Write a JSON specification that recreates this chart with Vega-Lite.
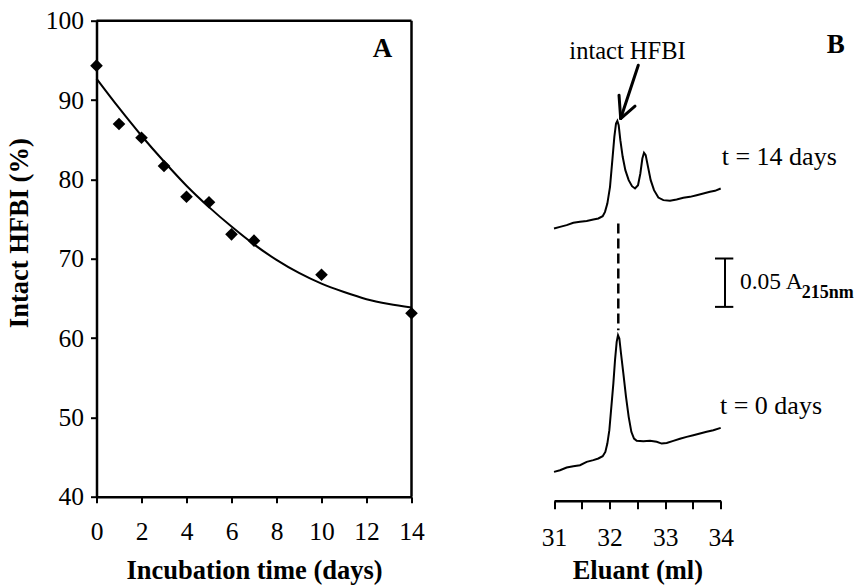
{
  "$schema": "https://vega.github.io/schema/vega-lite/v6.json",
  "width": 770.5,
  "height": 476,
  "autosize": {"type": "none"},
  "padding": {"left": 96.5, "top": 20.7, "right": 0, "bottom": 89.3},
  "config": {
    "view": {"stroke": null},
    "font": "Liberation Serif",
    "axis": {"grid": false, "domainColor": "black", "tickColor": "black", "labelColor": "black", "titleColor": "black", "labelFlush": false, "labelOverlap": false}
  },
  "layer": [
    {
      "encoding": {
        "x": {
          "field": "day", "type": "quantitative",
          "scale": {"domain": [0, 14], "range": [0, 315], "nice": false, "zero": false},
          "axis": {"orient": "bottom", "values": [0, 2, 4, 6, 8, 10, 12, 14], "title": "Incubation time (days)", "tickSize": 6, "tickWidth": 2, "domainWidth": 2.5, "labelFontSize": 25.5, "labelPadding": 17, "titleFontSize": 26.5, "titleFontWeight": "bold", "titleBaseline": "alphabetic", "titleY": 82}
        },
        "y": {
          "field": "pct", "type": "quantitative",
          "scale": {"domain": [40, 100], "nice": false, "zero": false},
          "axis": {"orient": "left", "values": [40, 50, 60, 70, 80, 90, 100], "title": "Intact HFBI (%)", "tickSize": 6, "tickWidth": 2, "domainWidth": 2.5, "labelFontSize": 25.5, "labelPadding": 7, "titleFontSize": 26.5, "titleFontWeight": "bold", "titleX": -77, "titleY": 212, "titleBaseline": "middle", "titleAlign": "center", "titleAngle": -90}
        }
      },
      "layer": [
        {
          "data": {"values": [
            {"day": 0, "pct": 92.7}, {"day": 1, "pct": 89.0}, {"day": 2, "pct": 85.5}, {"day": 3, "pct": 82.25},
            {"day": 4, "pct": 79.2}, {"day": 5, "pct": 76.5}, {"day": 6, "pct": 74.05}, {"day": 7, "pct": 71.8},
            {"day": 8, "pct": 69.85}, {"day": 9, "pct": 68.2}, {"day": 10, "pct": 66.85}, {"day": 11, "pct": 65.8},
            {"day": 12, "pct": 64.9}, {"day": 13, "pct": 64.3}, {"day": 14, "pct": 63.85}
          ]},
          "mark": {"type": "line", "color": "black", "strokeWidth": 2, "interpolate": "monotone"}
        },
        {
          "data": {"values": [
            {"day": 0, "pct": 94.33}, {"day": 1, "pct": 86.98}, {"day": 2, "pct": 85.25}, {"day": 3, "pct": 81.68},
            {"day": 4, "pct": 77.81}, {"day": 5, "pct": 77.11}, {"day": 6, "pct": 73.07}, {"day": 7, "pct": 72.27},
            {"day": 10, "pct": 67.98}, {"day": 14, "pct": 63.12}
          ]},
          "mark": {"type": "point", "shape": "diamond", "filled": true, "color": "black", "opacity": 1, "size": 160}
        },
        {
          "data": {"values": [
            {"day": 0, "day2": 14, "pct": 100, "pct2": 100},
            {"day": 14, "day2": 14, "pct": 40, "pct2": 100}
          ]},
          "mark": {"type": "rule", "color": "black", "strokeWidth": 2.5},
          "encoding": {"x2": {"field": "day2"}, "y2": {"field": "pct2"}}
        },
        {
          "data": {"values": [{"day": 12.71, "pct": 95.46, "label": "A"}]},
          "mark": {"type": "text", "fontSize": 27, "fontWeight": "bold", "align": "center", "baseline": "alphabetic", "color": "black"},
          "encoding": {"text": {"field": "label"}}
        }
      ]
    },
    {
      "encoding": {
        "x": {
          "field": "ml", "type": "quantitative",
          "scale": {"domain": [31, 34], "range": [457.5, 624.2], "nice": false, "zero": false},
          "axis": {"orient": "bottom", "values": [31, 31.5, 32, 32.5, 33, 33.5, 34], "labelExpr": "datum.value % 1 === 0 ? format(datum.value, 'd') : ''", "offset": 4, "title": "Eluant (ml)", "tickSize": 8, "tickWidth": 2, "domainWidth": 2.5, "labelFontSize": 25.5, "labelPadding": 17, "titleFontSize": 26.5, "titleFontWeight": "bold", "titleBaseline": "alphabetic", "titleY": 78}
        },
        "y": {
          "field": "v", "type": "quantitative",
          "scale": {"domain": [0, 0.491], "nice": false, "zero": false},
          "axis": null
        }
      },
      "layer": [
        {
          "data": {"values": [
            {"trace": "14", "ml": 31.000, "v": 0.2766}, {"trace": "14", "ml": 31.108, "v": 0.2783}, {"trace": "14", "ml": 31.228, "v": 0.2801},
            {"trace": "14", "ml": 31.348, "v": 0.2825}, {"trace": "14", "ml": 31.468, "v": 0.2835}, {"trace": "14", "ml": 31.588, "v": 0.2845},
            {"trace": "14", "ml": 31.708, "v": 0.2859}, {"trace": "14", "ml": 31.798, "v": 0.2870}, {"trace": "14", "ml": 31.876, "v": 0.2894},
            {"trace": "14", "ml": 31.918, "v": 0.2938}, {"trace": "14", "ml": 31.960, "v": 0.3024}, {"trace": "14", "ml": 32.008, "v": 0.3196},
            {"trace": "14", "ml": 32.050, "v": 0.3471}, {"trace": "14", "ml": 32.086, "v": 0.3712}, {"trace": "14", "ml": 32.116, "v": 0.3850},
            {"trace": "14", "ml": 32.140, "v": 0.3877}, {"trace": "14", "ml": 32.164, "v": 0.3832}, {"trace": "14", "ml": 32.194, "v": 0.3678},
            {"trace": "14", "ml": 32.236, "v": 0.3506}, {"trace": "14", "ml": 32.284, "v": 0.3368}, {"trace": "14", "ml": 32.344, "v": 0.3265},
            {"trace": "14", "ml": 32.404, "v": 0.3203}, {"trace": "14", "ml": 32.458, "v": 0.3179}, {"trace": "14", "ml": 32.512, "v": 0.3213},
            {"trace": "14", "ml": 32.554, "v": 0.3334}, {"trace": "14", "ml": 32.590, "v": 0.3488}, {"trace": "14", "ml": 32.620, "v": 0.3547},
            {"trace": "14", "ml": 32.650, "v": 0.3523}, {"trace": "14", "ml": 32.692, "v": 0.3402}, {"trace": "14", "ml": 32.740, "v": 0.3265},
            {"trace": "14", "ml": 32.800, "v": 0.3162}, {"trace": "14", "ml": 32.878, "v": 0.3086}, {"trace": "14", "ml": 32.968, "v": 0.3059},
            {"trace": "14", "ml": 33.087, "v": 0.3052}, {"trace": "14", "ml": 33.207, "v": 0.3066}, {"trace": "14", "ml": 33.327, "v": 0.3083},
            {"trace": "14", "ml": 33.447, "v": 0.3093}, {"trace": "14", "ml": 33.567, "v": 0.3110}, {"trace": "14", "ml": 33.687, "v": 0.3127},
            {"trace": "14", "ml": 33.807, "v": 0.3145}, {"trace": "14", "ml": 33.897, "v": 0.3155}, {"trace": "14", "ml": 34.000, "v": 0.3179},
            {"trace": "0", "ml": 31.000, "v": 0.0256}, {"trace": "0", "ml": 31.108, "v": 0.0273}, {"trace": "0", "ml": 31.228, "v": 0.0301},
            {"trace": "0", "ml": 31.348, "v": 0.0315}, {"trace": "0", "ml": 31.468, "v": 0.0325}, {"trace": "0", "ml": 31.588, "v": 0.0359},
            {"trace": "0", "ml": 31.708, "v": 0.0377}, {"trace": "0", "ml": 31.798, "v": 0.0394}, {"trace": "0", "ml": 31.876, "v": 0.0418},
            {"trace": "0", "ml": 31.924, "v": 0.0462}, {"trace": "0", "ml": 31.960, "v": 0.0548}, {"trace": "0", "ml": 31.996, "v": 0.0686},
            {"trace": "0", "ml": 32.032, "v": 0.0927}, {"trace": "0", "ml": 32.068, "v": 0.1167}, {"trace": "0", "ml": 32.098, "v": 0.1408},
            {"trace": "0", "ml": 32.128, "v": 0.1597}, {"trace": "0", "ml": 32.152, "v": 0.1666}, {"trace": "0", "ml": 32.176, "v": 0.1632},
            {"trace": "0", "ml": 32.206, "v": 0.1477}, {"trace": "0", "ml": 32.248, "v": 0.1271}, {"trace": "0", "ml": 32.296, "v": 0.1030},
            {"trace": "0", "ml": 32.344, "v": 0.0824}, {"trace": "0", "ml": 32.392, "v": 0.0669}, {"trace": "0", "ml": 32.440, "v": 0.0600},
            {"trace": "0", "ml": 32.488, "v": 0.0576}, {"trace": "0", "ml": 32.608, "v": 0.0573}, {"trace": "0", "ml": 32.728, "v": 0.0576},
            {"trace": "0", "ml": 32.848, "v": 0.0566}, {"trace": "0", "ml": 32.938, "v": 0.0548}, {"trace": "0", "ml": 33.028, "v": 0.0555},
            {"trace": "0", "ml": 33.147, "v": 0.0576}, {"trace": "0", "ml": 33.267, "v": 0.0597}, {"trace": "0", "ml": 33.387, "v": 0.0617},
            {"trace": "0", "ml": 33.507, "v": 0.0634}, {"trace": "0", "ml": 33.627, "v": 0.0652}, {"trace": "0", "ml": 33.747, "v": 0.0669},
            {"trace": "0", "ml": 33.867, "v": 0.0686}, {"trace": "0", "ml": 34.000, "v": 0.0710}
          ]},
          "mark": {"type": "line", "color": "black", "strokeWidth": 2},
          "encoding": {"detail": {"field": "trace"}}
        },
        {
          "data": {"values": [{"ml": 32.157, "v": 0.2818, "v2": 0.1718}]},
          "mark": {"type": "rule", "color": "black", "strokeWidth": 2.5, "strokeDash": [10, 5]},
          "encoding": {"y2": {"field": "v2"}}
        },
        {
          "data": {"values": [
            {"ml": 34.077, "ml2": 34.077, "v": 0.2457, "v2": 0.1958},
            {"ml": 33.897, "ml2": 34.227, "v": 0.2457, "v2": 0.2457},
            {"ml": 33.897, "ml2": 34.227, "v": 0.1958, "v2": 0.1958}
          ]},
          "mark": {"type": "rule", "color": "black", "strokeWidth": 2},
          "encoding": {"x2": {"field": "ml2"}, "y2": {"field": "v2"}}
        },
        {
          "data": {"values": [
            {"ml": 32.517, "ml2": 32.200, "v": 0.4451, "v2": 0.3901},
            {"ml": 32.170, "ml2": 32.200, "v": 0.4142, "v2": 0.3901},
            {"ml": 32.458, "ml2": 32.200, "v": 0.4028, "v2": 0.3901}
          ]},
          "mark": {"type": "rule", "color": "black", "strokeWidth": 3, "strokeCap": "round"},
          "encoding": {"x2": {"field": "ml2"}, "y2": {"field": "v2"}}
        },
        {
          "data": {"values": [{"ml": 32.323, "v": 0.4520, "label": "intact HFBI"}]},
          "mark": {"type": "text", "fontSize": 24.5, "align": "center", "baseline": "alphabetic", "color": "black"},
          "encoding": {"text": {"field": "label"}}
        },
        {
          "data": {"values": [
            {"ml": 34.018, "v": 0.3420, "label": "t = 14 days"},
            {"ml": 33.987, "v": 0.0858, "label": "t = 0 days"}
          ]},
          "mark": {"type": "text", "fontSize": 26, "align": "left", "baseline": "alphabetic", "color": "black"},
          "encoding": {"text": {"field": "label"}}
        },
        {
          "data": {"values": [{"ml": 34.347, "v": 0.2141, "label": "0.05 A"}]},
          "mark": {"type": "text", "fontSize": 23.5, "align": "left", "baseline": "alphabetic", "color": "black"},
          "encoding": {"text": {"field": "label"}}
        },
        {
          "data": {"values": [{"ml": 35.457, "v": 0.2045, "label": "215nm"}]},
          "mark": {"type": "text", "fontSize": 18, "fontWeight": "bold", "align": "left", "baseline": "alphabetic", "color": "black"},
          "encoding": {"text": {"field": "label"}}
        },
        {
          "data": {"values": [{"ml": 36.071, "v": 0.4572, "label": "B"}]},
          "mark": {"type": "text", "fontSize": 27, "fontWeight": "bold", "align": "center", "baseline": "alphabetic", "color": "black"},
          "encoding": {"text": {"field": "label"}}
        }
      ]
    }
  ],
  "resolve": {"scale": {"x": "independent", "y": "independent"}}
}
